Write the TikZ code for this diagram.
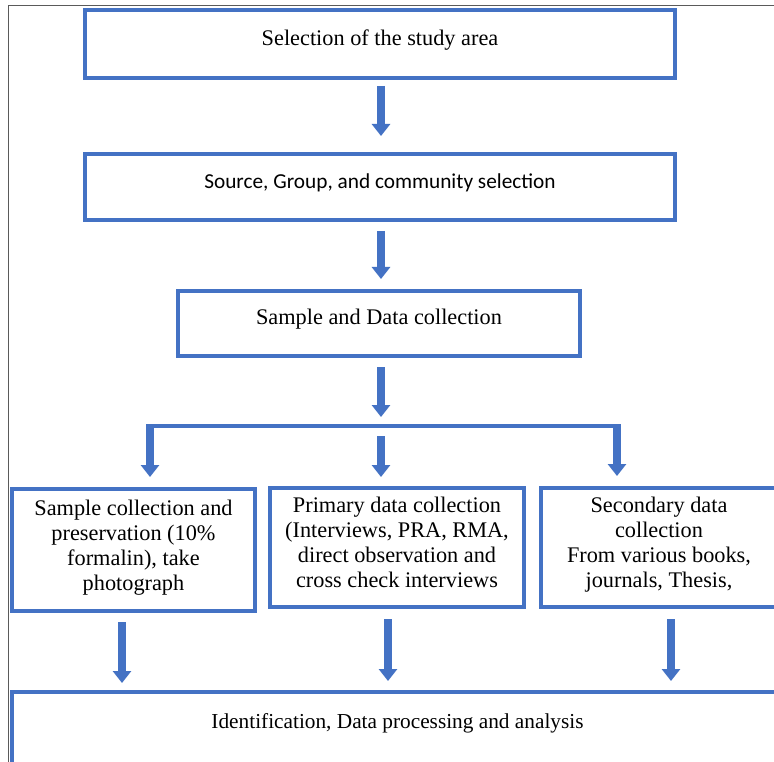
\documentclass[tikz,border=0pt]{standalone}
\usepackage{fontspec}
\setmainfont{Liberation Serif}
\newfontfamily\calfont{Carlito}
\usetikzlibrary{arrows.meta}
\definecolor{bblue}{HTML}{4472C4}
\definecolor{frame}{HTML}{5A5A5A}
\tikzset{
  box/.style={draw=bblue, line width=4pt, rectangle, inner sep=0pt, align=center, text=black},
  camb/.style={font=\fontsize{22.3}{25}\selectfont},
  blk/.style={draw=bblue, line width=7.5pt, -{Triangle[width=18pt,length=12pt]}},
  brk/.style={draw=bblue, line width=4pt},
}
\begin{document}
\begin{tikzpicture}[x=1pt,y=-1pt]
\useasboundingbox (0,0) rectangle (774,762);
\clip (0,0) rectangle (774,762);
\fill[white] (0,0) rectangle (774,762);
% outer frame
\draw[frame, line width=1.5pt] (8.5,762) -- (8.5,5.5) -- (774,5.5);
% main boxes
\node[box, camb, minimum width=590pt, minimum height=68pt, text height=12pt, text depth=8pt] (b1) at (380,44) {Selection of the study area};
\node[box, font=\calfont\fontsize{21.3}{25}\selectfont, minimum width=590pt, minimum height=66pt, text height=12pt, text depth=8pt] (b2) at (380,187) {Source, Group, and community selection};
\node[box, camb, minimum width=402pt, minimum height=65pt, text height=12pt, text depth=10pt] (b3) at (379,323.5) {Sample and Data collection};
% three boxes
\node[box, camb, minimum width=243pt, minimum height=122pt, text depth=10pt] (s1) at (133.5,550) {Sample collection and\\preservation (10\%\\formalin), take\\photograph};
\node[box, camb, minimum width=254pt, minimum height=119pt, text depth=10pt] (s2) at (397,547.5) {Primary data collection\\(Interviews, PRA, RMA,\\direct observation and\\cross check interviews};
\node[box, camb, minimum width=236pt, minimum height=119pt, text depth=10pt] (s3) at (659,547.5) {Secondary data\\collection\\From various books,\\journals, Thesis,};
% bottom box
\node[box, font=\fontsize{21.3}{25}\selectfont, minimum width=771pt, minimum height=74pt, text height=12pt, text depth=14pt] (b4) at (397.5,729) {Identification, Data processing and analysis};
% bracket
\coordinate (bl) at (150,426);
\coordinate (bm) at (381,426);
\coordinate (br) at (617,426);
\coordinate (x1) at (122,0);
\coordinate (x2) at (388,0);
\coordinate (x3) at (671,0);
% arrows between main boxes
\draw[blk, shorten <=6pt, shorten >=16pt] (b1.south -| bm) -- (b2.north -| bm);
\draw[blk, shorten <=9pt, shorten >=10pt] (b2.south -| bm) -- (b3.north -| bm);
\draw[blk, shorten <=9pt, shorten >=9pt] (b3.south -| bm) -- (bm);
\draw[brk] (bl) -- (br);
\draw[blk] ([yshift=2pt]bl) -- ([yshift=10pt]bl |- s1.north);
\draw[blk] ([yshift=2pt]br) -- ([yshift=10pt]br |- s3.north);
\draw[blk, shorten <=10pt, shorten >=9pt] (bm) -- (bm |- s2.north);
% arrows to bottom box
\draw[blk, shorten <=9pt, shorten >=7pt] (s1.south -| x1) -- (b4.north -| x1);
\draw[blk, shorten <=10pt, shorten >=9pt] (s2.south -| x2) -- (b4.north -| x2);
\draw[blk, shorten <=10pt, shorten >=9pt] (s3.south -| x3) -- (b4.north -| x3);
\end{tikzpicture}
\end{document}
